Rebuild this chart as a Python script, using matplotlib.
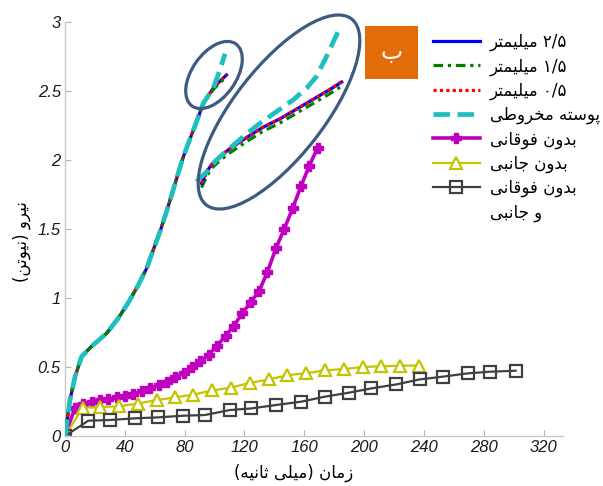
import re
import matplotlib
matplotlib.use("Agg")
import matplotlib.pyplot as plt
from matplotlib.patches import Ellipse, Rectangle
from matplotlib.lines import Line2D

# ---------------------------------------------------------------- data
# main force curves (time in ms, force in N)
time_main = [0, 3.3, 6.7, 11.1, 17.8, 27.8, 35.6, 42.3, 49.0, 54.6, 59.0, 63.5,
             67.5, 71.3, 75.0, 79.0, 83.5, 88.0, 92.4, 99.1, 103.5, 108.0]
force_25 = [0, 0.26, 0.43, 0.575, 0.65, 0.744, 0.853, 0.966, 1.094, 1.215, 1.348,
            1.48, 1.614, 1.746, 1.879, 2.02, 2.15, 2.278, 2.41, 2.52, 2.57, 2.616]
force_15 = [0, 0.26, 0.43, 0.575, 0.65, 0.744, 0.853, 0.966, 1.094, 1.215, 1.348,
            1.48, 1.614, 1.746, 1.879, 2.02, 2.15, 2.278, 2.41, 2.51, 2.56, 2.60]
force_05 = [0, 0.26, 0.43, 0.575, 0.65, 0.744, 0.853, 0.966, 1.094, 1.215, 1.348,
            1.48, 1.614, 1.746, 1.879, 2.02, 2.15, 2.278, 2.41, 2.52, 2.57, 2.62]
time_cone = [0, 3.3, 6.7, 11.1, 17.8, 27.8, 35.6, 42.3, 49.0, 54.6, 59.0, 63.5,
             67.5, 71.3, 75.0, 79.0, 83.5, 88.0, 92.4, 99.1, 103.5, 107.0]
force_cone = [0, 0.26, 0.43, 0.575, 0.65, 0.744, 0.853, 0.966, 1.094, 1.215, 1.348,
              1.48, 1.614, 1.746, 1.879, 2.02, 2.15, 2.278, 2.41, 2.52, 2.65, 2.77]

# magnified view of the curve tops
detail_time_mm = [91.3, 95.0, 99.0, 104.0, 110.0, 121.0, 132.0, 144.0, 155.0, 166.0, 177.0, 185.0]
detail_25 = [1.83, 1.92, 1.98, 2.03, 2.08, 2.16, 2.235, 2.30, 2.37, 2.44, 2.51, 2.565]
detail_15 = [1.80, 1.89, 1.95, 2.00, 2.05, 2.13, 2.205, 2.27, 2.34, 2.41, 2.48, 2.535]
detail_05 = [1.83, 1.92, 1.98, 2.03, 2.08, 2.16, 2.235, 2.30, 2.37, 2.44, 2.51, 2.57]
detail_time_cone = [88.0, 94.7, 101.3, 110.2, 119.1, 130.3, 141.4, 152.5, 161.5, 168.1, 174.8, 182.6]
detail_cone = [1.843, 1.915, 2.0, 2.085, 2.169, 2.266, 2.35, 2.435, 2.52, 2.604, 2.749, 2.93]

time_top = [0, 6.5, 12.2, 17.8, 23.4, 29.0, 34.6, 40.2, 45.8, 51.4, 57.0, 62.6, 68.2,
            73.8, 79.4, 85.0, 90.6, 96.2, 101.8, 107.4, 113.0, 118.6, 124.2, 129.8,
            135.4, 141.0, 146.6, 152.2, 157.8, 163.4, 169.0]
force_top = [0, 0.20, 0.235, 0.245, 0.26, 0.268, 0.28, 0.29, 0.303, 0.325, 0.345, 0.368,
             0.39, 0.425, 0.46, 0.498, 0.54, 0.59, 0.655, 0.725, 0.80, 0.89, 0.97, 1.05,
             1.19, 1.36, 1.50, 1.65, 1.81, 1.96, 2.09]

time_side = [0, 11.8, 23.4, 36.1, 48.5, 61.2, 73.5, 85.7, 98.6, 110.7, 123.6, 136.5,
             148.5, 161.0, 174.0, 186.4, 199.0, 211.6, 224.3, 236.5]
force_side = [0, 0.205, 0.21, 0.215, 0.235, 0.26, 0.28, 0.30, 0.33, 0.35, 0.385, 0.41,
              0.44, 0.455, 0.475, 0.485, 0.50, 0.505, 0.51, 0.51]

time_both = [0, 15.6, 30.1, 46.8, 62.3, 79.0, 93.5, 110.2, 124.7, 141.4, 158.1, 173.7,
             189.9, 204.9, 221.6, 237.1, 252.7, 269.4, 284.4, 301.3]
force_both = [0, 0.111, 0.116, 0.128, 0.135, 0.147, 0.152, 0.188, 0.2, 0.225, 0.249,
              0.285, 0.314, 0.345, 0.374, 0.41, 0.43, 0.454, 0.466, 0.473]

x_ticks = [0, 40, 80, 120, 160, 200, 240, 280, 320]
x_tick_labels = ['0', '40', '80', '120', '160', '200', '240', '280', '320']
y_ticks = [0, 0.5, 1, 1.5, 2, 2.5, 3]
y_tick_labels = ['0', '0.5', '1', '1.5', '2', '2.5', '3']

series_labels = ['۲/۵ میلیمتر', '۱/۵ میلیمتر', '۰/۵ میلیمتر', 'پوسته مخروطی',
                 'بدون فوقانی', 'بدون جانبی', 'بدون فوقانی', 'و جانبی']
x_label = 'زمان (میلی ثانیه)'
y_label = 'نیرو (نیوتن)'
panel_label = 'ب'

# ------------------------------------------------- right-to-left text
FORMS = {
    'ا': ('\uFE8D', '\uFE8E', None, None),
    'ب': ('\uFE8F', '\uFE90', '\uFE91', '\uFE92'),
    'پ': ('\uFB56', '\uFB57', '\uFB58', '\uFB59'),
    'ت': ('\uFE95', '\uFE96', '\uFE97', '\uFE98'),
    'ث': ('\uFE99', '\uFE9A', '\uFE9B', '\uFE9C'),
    'ج': ('\uFE9D', '\uFE9E', '\uFE9F', '\uFEA0'),
    'خ': ('\uFEA5', '\uFEA6', '\uFEA7', '\uFEA8'),
    'د': ('\uFEA9', '\uFEAA', None, None),
    'ر': ('\uFEAD', '\uFEAE', None, None),
    'ز': ('\uFEAF', '\uFEB0', None, None),
    'س': ('\uFEB1', '\uFEB2', '\uFEB3', '\uFEB4'),
    'ط': ('\uFEC1', '\uFEC2', '\uFEC3', '\uFEC4'),
    'ف': ('\uFED1', '\uFED2', '\uFED3', '\uFED4'),
    'ق': ('\uFED5', '\uFED6', '\uFED7', '\uFED8'),
    'ل': ('\uFEDD', '\uFEDE', '\uFEDF', '\uFEE0'),
    'م': ('\uFEE1', '\uFEE2', '\uFEE3', '\uFEE4'),
    'ن': ('\uFEE5', '\uFEE6', '\uFEE7', '\uFEE8'),
    'ه': ('\uFEE9', '\uFEEA', '\uFEEB', '\uFEEC'),
    'و': ('\uFEED', '\uFEEE', None, None),
    'ی': ('\uFBFC', '\uFBFD', '\uFBFE', '\uFBFF'),
}


def _shape_line(s):
    out = []
    for i, ch in enumerate(s):
        if ch not in FORMS:
            out.append(ch)
            continue
        iso, fin, ini, med = FORMS[ch]
        prev = s[i - 1] if i > 0 else ''
        nxt = s[i + 1] if i + 1 < len(s) else ''
        joins_prev = prev in FORMS and FORMS[prev][2] is not None
        joins_next = ini is not None and nxt in FORMS
        if joins_prev and joins_next:
            out.append(med)
        elif joins_prev:
            out.append(fin)
        elif joins_next:
            out.append(ini)
        else:
            out.append(iso)
    vis = ''.join(reversed(out)).translate(str.maketrans('()', ')('))
    return re.sub(r'[0-9\u06F0-\u06F9/.]+', lambda m: m.group(0)[::-1], vis)


def rtl(text):
    return '\n'.join(_shape_line(line) for line in text.split('\n'))


# ---------------------------------------------------------------- plot
plt.rcParams['font.family'] = ['DejaVu Sans']
W, H = 603, 486
fig = plt.figure(figsize=(W / 100, H / 100), dpi=100)
ax = fig.add_axes([65 / W, 50 / H, 498 / W, 414 / H])

c_blue, c_green, c_red, c_cyan = '#0000ff', '#007f00', '#ff0000', '#1fbfbf'
c_mag, c_yel, c_blk = '#bf00bf', '#c4c400', '#404040'

l25, = ax.plot(time_main, force_25, color=c_blue, lw=2.3, zorder=3)
l05, = ax.plot(time_main, force_05, color=c_red, lw=2.3, ls=(0, (1, 1)), zorder=4)
l15, = ax.plot(time_main, force_15, color=c_green, lw=2.3, ls=(0, (3, 1.5, 1, 1.5)), zorder=5)
lcone, = ax.plot(time_cone, force_cone, color=c_cyan, lw=3.4, ls=(0, (3.5, 1.6)), zorder=6)

ax.plot(detail_time_mm, detail_15, color=c_green, lw=2.3, ls=(0, (3, 1.5, 1, 1.5)), zorder=3)
ax.plot(detail_time_mm, detail_25, color=c_blue, lw=2.3, zorder=4)
ax.plot(detail_time_mm, detail_05, color=c_red, lw=2.3, ls=(0, (1, 1)), zorder=5)
ax.plot(detail_time_cone, detail_cone, color=c_cyan, lw=3.4, ls=(0, (3.5, 1.6)), zorder=6)

ltop, = ax.plot(time_top, force_top, color=c_mag, lw=2.6, marker='P', ms=6.5,
                mec=c_mag, mfc=c_mag, zorder=2)
lside, = ax.plot(time_side, force_side, color=c_yel, lw=1.6, marker='^', ms=9,
                 mfc='white', mec=c_yel, mew=1.6, zorder=2)
lboth, = ax.plot(time_both, force_both, color=c_blk, lw=1.6, marker='s', ms=8,
                 mfc='none', mec=c_blk, mew=1.6, zorder=2)

ax.set_xlim(0, 333)
ax.set_ylim(0, 3)
for side in ('top', 'right'):
    ax.spines[side].set_visible(False)
for side in ('left', 'bottom'):
    ax.spines[side].set_color('#c8c8c8')
    ax.spines[side].set_linewidth(1.0)
ax.set_xticks(x_ticks)
ax.set_xticklabels(x_tick_labels)
ax.set_yticks(y_ticks)
ax.set_yticklabels(y_tick_labels)
ax.tick_params(direction='in', length=4, color='#b4b4b4', labelsize=12, pad=3,
               labelcolor='#1a1a1a')
for lab in ax.get_xticklabels() + ax.get_yticklabels():
    lab.set_fontfamily('Liberation Sans')
    lab.set_fontstyle('italic')

ax.set_xlabel(rtl(x_label), fontsize=12)
ax.xaxis.set_label_coords(0.46, -0.068)
ax.set_ylabel(rtl(y_label), fontsize=12)
ax.yaxis.set_label_coords(-0.068, 0.47)

# circled regions
ring = dict(fill=False, edgecolor='#3d5b80', lw=2.3, transform=fig.dpi_scale_trans, zorder=10)
fig.patches.append(Ellipse((2.14, 4.11), 0.76, 0.44, angle=55, **ring))
fig.patches.append(Ellipse((2.79, 3.74), 2.36, 0.90, angle=52, **ring))

# panel tag
fig.patches.append(Rectangle((3.65, 4.07), 0.53, 0.53, facecolor='#e36c0a',
                             edgecolor='none', transform=fig.dpi_scale_trans))
fig.text(3.915, 4.34, rtl(panel_label), color='white', fontsize=17,
         ha='center', va='center', transform=fig.dpi_scale_trans)

blank = Line2D([], [], color='none')
leg = fig.legend([l25, l15, l05, lcone, ltop, lside, lboth, blank],
                 [rtl(t) for t in series_labels],
                 loc='upper left', bbox_to_anchor=(433 / W, 1 - 33 / H),
                 frameon=False, fontsize=12, handlelength=2.8, handletextpad=0.6,
                 labelspacing=0.36, borderpad=0, borderaxespad=0)

fig.savefig('out.png', dpi=100)
